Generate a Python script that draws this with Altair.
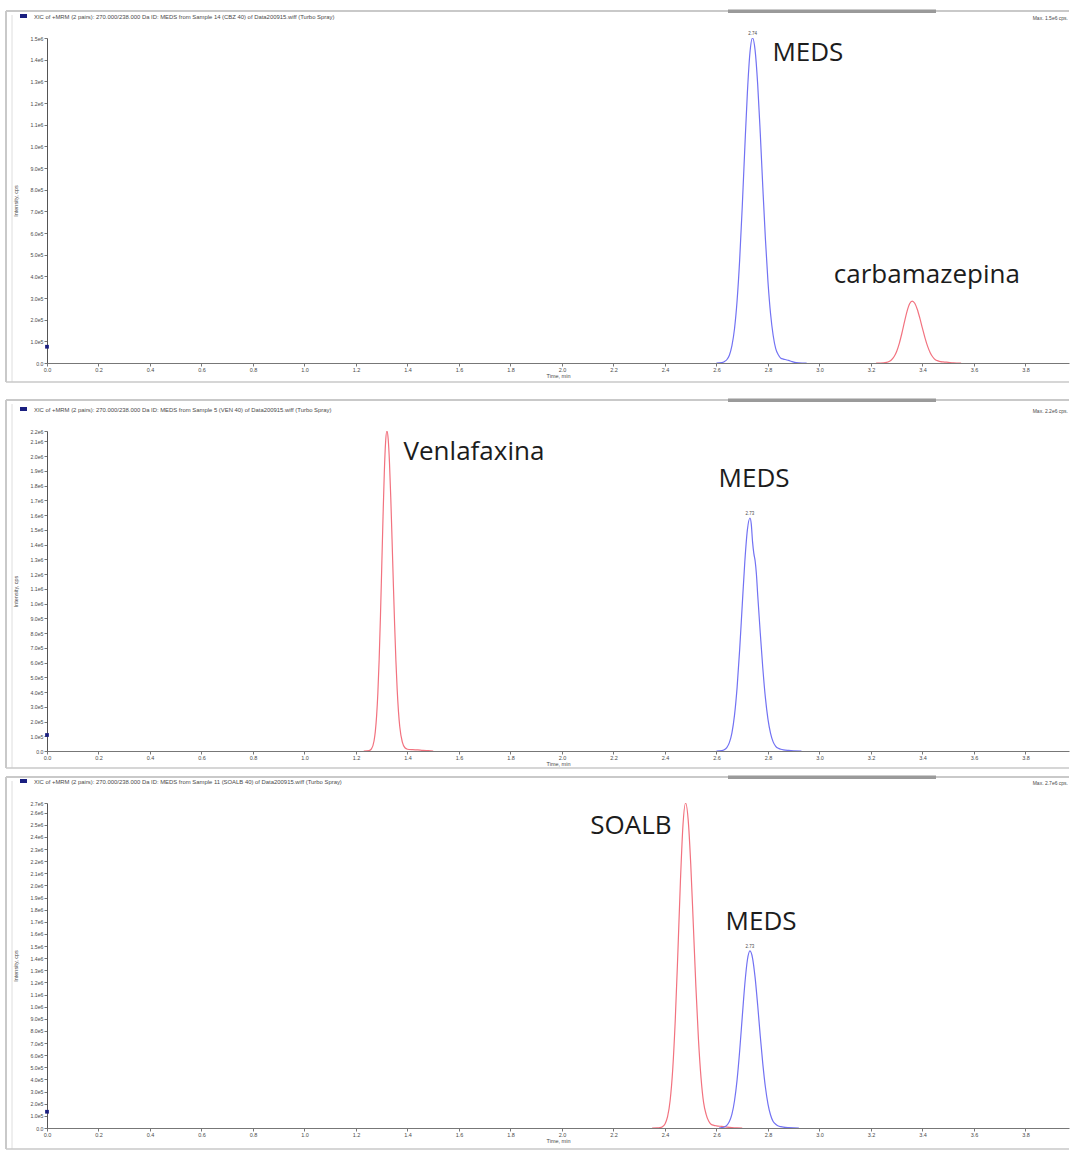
import altair as alt
import pandas as pd

# ---------------- data ----------------
X_TICKS = [0.0, 0.2, 0.4, 0.6, 0.8, 1.0, 1.2, 1.4, 1.6, 1.8, 2.0, 2.2, 2.4, 2.6, 2.8, 3.0, 3.2, 3.4, 3.6, 3.8]
X_MAX = 3.969

# panel 1 : MEDS (blue) + carbamazepina (red)
p1_meds_t = [2.60, 2.62, 2.63, 2.64, 2.65, 2.66, 2.67, 2.68, 2.69, 2.70, 2.71, 2.72, 2.73, 2.74, 2.75, 2.76, 2.77,
             2.78, 2.79, 2.80, 2.81, 2.82, 2.83, 2.84, 2.85, 2.86, 2.87, 2.88, 2.89, 2.90, 2.92, 2.95]
p1_meds_i = [0, 2000, 6000, 15000, 36000, 80000, 158000, 287000, 476000, 720000, 993000, 1248000, 1433000, 1500000,
             1443000, 1286000, 1061000, 809000, 572000, 374000, 227000, 128000, 66000, 38000, 22000, 18000, 15000,
             12000, 8000, 4000, 1000, 0]
p1_carb_t = [3.22, 3.25, 3.26, 3.27, 3.28, 3.29, 3.30, 3.31, 3.32, 3.33, 3.34, 3.35, 3.36, 3.37, 3.38, 3.39, 3.40,
             3.41, 3.42, 3.43, 3.44, 3.45, 3.46, 3.47, 3.48, 3.50, 3.52, 3.55]
p1_carb_i = [0, 1000, 2900, 6900, 15200, 30000, 54600, 90700, 137300, 189300, 238000, 273000, 286000, 275700, 247100,
             205900, 159500, 114700, 76700, 47800, 27600, 14900, 10000, 6500, 5000, 3000, 1000, 0]
p1_ymax = 1500000
p1_yticks = [0, 100000, 200000, 300000, 400000, 500000, 600000, 700000, 800000, 900000, 1000000, 1100000, 1200000,
             1300000, 1400000, 1500000]

# panel 2 : Venlafaxina (red) + MEDS (blue)
p2_venl_t = [1.23, 1.25, 1.26, 1.27, 1.275, 1.28, 1.285, 1.29, 1.295, 1.30, 1.305, 1.31, 1.315, 1.32, 1.325,
             1.33, 1.335, 1.34, 1.345, 1.35, 1.355, 1.36, 1.365, 1.37, 1.38, 1.39, 1.40, 1.42, 1.44, 1.46, 1.48,
             1.50]
p2_venl_i = [0, 2400, 14800, 67900, 131300, 236500, 397100, 622800, 913600, 1247800, 1588400, 1890100, 2096200,
             2170000, 2115800, 1957300, 1720800, 1436500, 1137100, 857200, 611900, 414500, 266900, 164100, 60000,
             22000, 12000, 9000, 7000, 4000, 2000, 0]
p2_meds_t = [2.60, 2.62, 2.63, 2.64, 2.65, 2.66, 2.67, 2.68, 2.69, 2.70, 2.71, 2.72, 2.73, 2.735, 2.74, 2.745, 2.75,
             2.755, 2.76, 2.77, 2.78, 2.79, 2.80, 2.81, 2.82, 2.83, 2.84, 2.85, 2.86, 2.88, 2.90, 2.93]
p2_meds_i = [0, 3000, 8700, 23400, 56900, 123200, 243300, 429800, 687300, 989100, 1283000, 1499400, 1580000,
             1540000, 1420000, 1340000, 1290000, 1200000, 1060000, 800000, 560000, 360000, 215000, 120000, 62000,
             32000, 18000, 12000, 8000, 4000, 1500, 0]
p2_ymax = 2170000
p2_yticks = [0, 100000, 200000, 300000, 400000, 500000, 600000, 700000, 800000, 900000, 1000000, 1100000, 1200000,
             1300000, 1400000, 1500000, 1600000, 1700000, 1800000, 1900000, 2000000, 2100000, 2170000]

# panel 3 : SOALB (red) + MEDS (blue)
p3_soalb_t = [2.35, 2.37, 2.38, 2.39, 2.40, 2.41, 2.42, 2.43, 2.44, 2.45, 2.46, 2.47, 2.48, 2.49, 2.50, 2.51, 2.52,
              2.53, 2.54, 2.55, 2.56, 2.57, 2.58, 2.59, 2.60, 2.62, 2.64, 2.66, 2.68, 2.70]
p3_soalb_i = [0, 800, 2700, 10500, 33200, 93000, 227000, 482400, 895100, 1444500, 2036800, 2503100, 2680000,
              2543300, 2176200, 1677700, 1165800, 729000, 412700, 209000, 111000, 55000, 29000, 22000, 18000, 13000,
              8000, 4000, 1500, 0]
p3_meds_t = [2.61, 2.62, 2.63, 2.64, 2.65, 2.66, 2.67, 2.68, 2.69, 2.70, 2.71, 2.72, 2.73, 2.74, 2.75, 2.76, 2.77,
             2.78, 2.79, 2.80, 2.81, 2.82, 2.83, 2.84, 2.85, 2.86, 2.88, 2.90, 2.92]
p3_meds_i = [0, 2900, 8000, 21600, 52600, 113900, 224800, 397100, 635100, 914000, 1185500, 1385500, 1460000,
             1401600, 1239500, 1011800, 759200, 527100, 335800, 197100, 107300, 53600, 31000, 17000, 11000, 7000,
             3000, 1000, 0]
p3_ymax = 2680000
p3_yticks = [0, 100000, 200000, 300000, 400000, 500000, 600000, 700000, 800000, 900000, 1000000, 1100000, 1200000,
             1300000, 1400000, 1500000, 1600000, 1700000, 1800000, 1900000, 2000000, 2100000, 2200000, 2300000,
             2400000, 2500000, 2600000, 2680000]

# annotations: (time, intensity, text)
p1_notes = [(2.955, 1394000, "MEDS"), (3.417, 369000, "carbamazepina")]
p2_notes = [(1.658, 1973000, "Venlafaxina"), (2.746, 1790000, "MEDS")]
p3_notes = [(2.268, 2424000, "SOALB"), (2.773, 1633000, "MEDS")]
p1_rt = [(2.74, 1500000, "2.74")]
p2_rt = [(2.73, 1580000, "2.73")]
p3_rt = [(2.73, 1460000, "2.73")]

headers = [
    "XIC of +MRM (2 pairs): 270.000/238.000 Da ID: MEDS from Sample 14 (CBZ 40) of Data200915.wiff (Turbo Spray)",
    "XIC of +MRM (2 pairs): 270.000/238.000 Da ID: MEDS from Sample 5 (VEN 40) of Data200915.wiff (Turbo Spray)",
    "XIC of +MRM (2 pairs): 270.000/238.000 Da ID: MEDS from Sample 11 (SOALB 40) of Data200915.wiff (Turbo Spray)",
]
max_texts = ["Max. 1.5e6 cps.", "Max. 2.2e6 cps.", "Max. 2.7e6 cps."]

# ---------------- style ----------------
W = 1022
BLUE = "#7272f3"
RED = "#f2727f"
FRAME = "#c9c9c9"
TAB = "#9a9a9a"
INK = "#1c1c1c"
SMALL = "#4a4a4a"
SMALL_FONT = "Liberation Sans"
BIG_FONT = "Open Sans"

one = pd.DataFrame({"k": [0]})


def hline(y, x1, x2, color, w=1.0):
    return alt.Chart(one).mark_rule(color=color, strokeWidth=w).encode(
        x=alt.value(x1), x2=alt.value(x2), y=alt.value(y))


def vline(x, y1, y2, color, w=1.0):
    return alt.Chart(one).mark_rule(color=color, strokeWidth=w).encode(
        x=alt.value(x), y=alt.value(y1), y2=alt.value(y2))


def box(x1, x2, y1, y2, color):
    return alt.Chart(one).mark_rect(color=color).encode(
        x=alt.value(x1), x2=alt.value(x2), y=alt.value(y1), y2=alt.value(y2))


def label(x, y, txt, size=5.5, align="left", color=SMALL):
    return alt.Chart(one).mark_text(font=SMALL_FONT, fontSize=size, align=align, baseline="middle",
                                    color=color).encode(x=alt.value(x), y=alt.value(y), text=alt.value(txt))


def panel(height, ymax, yticks, traces, notes, rt, header, maxtxt, top_a, bot_a, ftop, fbot):
    xs = alt.Scale(domain=[0, X_MAX], nice=False, zero=False)
    ys = alt.Scale(domain=[0, ymax], nice=False)
    xaxis = alt.Axis(values=X_TICKS, format=".1f", title="Time, min", grid=False, tickSize=3,
                     labelFontSize=5.5, titleFontSize=5.5, labelPadding=1, titlePadding=1,
                     domainColor="#777777", tickColor="#777777", labelColor=SMALL, titleColor=SMALL,
                     labelFont=SMALL_FONT, titleFont=SMALL_FONT, titleFontWeight="normal", labelFlush=False)
    yaxis = alt.Axis(values=yticks,
                     labelExpr="datum.value == 0 ? '0.0' : replace(format(datum.value, '.1e'), '+', '')",
                     title="Intensity, cps", grid=False, tickSize=3, labelFontSize=5.2, titleFontSize=5.5,
                     labelPadding=1, domainColor="#555555", tickColor="#777777", labelColor=SMALL,
                     titleColor=SMALL, labelFont=SMALL_FONT, titleFont=SMALL_FONT, titleFontWeight="normal",
                     titleX=-29, titleY=height / 2, labelFlush=False, labelOverlap=False)

    def enc(ch):
        return ch.encode(x=alt.X("t:Q", scale=xs, axis=xaxis), y=alt.Y("i:Q", scale=ys, axis=yaxis))

    layers = [
        hline(top_a, -46, -40, "white"),
        hline(bot_a, -46, -40, "white"),
        hline(ftop, -41, 1022, FRAME, 2),
        box(681, 889, ftop - 1.5, ftop + 2, TAB),
        vline(-41, ftop, fbot, FRAME, 2),
        vline(-35, ftop + 4, fbot, "#dedede", 1),
        hline(fbot, -41, 1022, FRAME, 1.5),
        box(-27, -20, -24, -20, "#1a1f80"),
        label(-13, -21, header, 5.9),
        label(1021, -20, maxtxt, 5, "right"),
    ]
    for ts, vals, color in traces:
        df = pd.DataFrame({"t": ts, "i": vals})
        layers.append(enc(alt.Chart(df).mark_line(color=color, strokeWidth=1.2, interpolate="monotone",
                                                   clip=True)))
    ndf = pd.DataFrame({"t": [n[0] for n in notes], "i": [n[1] for n in notes], "s": [n[2] for n in notes]})
    layers.append(enc(alt.Chart(ndf).mark_text(font=BIG_FONT, fontSize=26, color=INK, align="center",
                                               baseline="alphabetic")).encode(text="s:N"))
    rdf = pd.DataFrame({"t": [n[0] for n in rt], "i": [n[1] for n in rt], "s": [n[2] for n in rt]})
    layers.append(enc(alt.Chart(rdf).mark_text(font=SMALL_FONT, fontSize=4.5, color=SMALL, align="center",
                                               baseline="bottom", dy=-2)).encode(text="s:N"))
    mdf = pd.DataFrame({"t": [0.0], "i": [ymax * 0.05]})
    layers.append(enc(alt.Chart(mdf).mark_square(color="#1a1f80", size=14, opacity=1)))
    return alt.layer(*layers).properties(width=W, height=height)


c1 = panel(325, p1_ymax, p1_yticks, [(p1_meds_t, p1_meds_i, BLUE), (p1_carb_t, p1_carb_i, RED)],
           p1_notes, p1_rt, headers[0], max_texts[0], -37, 353, -27, 344)
c2 = panel(320, p2_ymax, p2_yticks, [(p2_venl_t, p2_venl_i, RED), (p2_meds_t, p2_meds_i, BLUE)],
           p2_notes, p2_rt, headers[1], max_texts[1], -38, 340, -31, 337)
c3 = panel(325, p3_ymax, p3_yticks, [(p3_soalb_t, p3_soalb_i, RED), (p3_meds_t, p3_meds_i, BLUE)],
           p3_notes, p3_rt, headers[2], max_texts[2], -30, 346, -26, 346)

chart = alt.vconcat(c1, c2, c3, spacing=0).properties(padding=0).configure_view(strokeOpacity=0)
chart.save("out.html", embed_options={"renderer": "svg", "actions": False})
